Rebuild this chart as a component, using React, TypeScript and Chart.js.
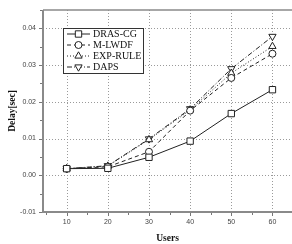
import React, { useEffect, useRef } from "react";
import { Chart, registerables } from "chart.js";
import { drawPoint } from "chart.js/helpers";

Chart.register(...registerables);

const users = [10, 20, 30, 40, 50, 60];
const drasCg = [0.0018, 0.0019, 0.0049, 0.0093, 0.0168, 0.0233];
const mLwdf = [0.0018, 0.0023, 0.0064, 0.0176, 0.0265, 0.0331];
const expRule = [0.0018, 0.0025, 0.0097, 0.0178, 0.0278, 0.0351];
const daps = [0.0018, 0.0026, 0.0099, 0.0181, 0.029, 0.0378];
const xMajorTicks = [10, 20, 30, 40, 50, 60];
const yMajorTicks = [-0.01, 0, 0.01, 0.02, 0.03, 0.04];

const framePlugin = {
  id: "frame",
  beforeDatasetsDraw(chart: any) {
    const { ctx, chartArea: a, scales } = chart;
    const xs = scales.x;
    const ys = scales.y;
    ctx.save();
    ctx.strokeStyle = "#9a9a9a";
    ctx.lineWidth = 1;
    ctx.setLineDash([1, 2]);
    for (const v of xMajorTicks) {
      const x = Math.round(xs.getPixelForValue(v)) + 0.5;
      ctx.beginPath();
      ctx.moveTo(x, a.top);
      ctx.lineTo(x, a.bottom);
      ctx.stroke();
    }
    for (const v of yMajorTicks) {
      const y = Math.round(ys.getPixelForValue(v)) + 0.5;
      ctx.beginPath();
      ctx.moveTo(a.left, y);
      ctx.lineTo(a.right, y);
      ctx.stroke();
    }
    ctx.setLineDash([]);
    ctx.strokeStyle = "#777";
    ctx.lineWidth = 1;
    for (let v = 5; v <= 65; v += 5) {
      if (v < xs.min || v > xs.max) continue;
      const x = Math.round(xs.getPixelForValue(v)) + 0.5;
      const len = v % 10 === 0 ? 4 : 3;
      ctx.beginPath();
      ctx.moveTo(x, a.bottom);
      ctx.lineTo(x, a.bottom + len);
      ctx.stroke();
    }
    for (let i = -2; i <= 9; i++) {
      const v = i * 0.005;
      const y = Math.round(ys.getPixelForValue(v)) + 0.5;
      const len = i % 2 === 0 ? 4 : 3;
      ctx.beginPath();
      ctx.moveTo(a.left, y);
      ctx.lineTo(a.left - len, y);
      ctx.stroke();
    }
    ctx.strokeStyle = "#8a8a8a";
    ctx.lineWidth = 2;
    ctx.beginPath();
    ctx.moveTo(a.left, a.top);
    ctx.lineTo(a.left, a.bottom);
    ctx.lineTo(a.right, a.bottom);
    ctx.stroke();
    ctx.lineWidth = 1.5;
    ctx.beginPath();
    ctx.moveTo(a.left, a.top);
    ctx.lineTo(a.right, a.top);
    ctx.stroke();
    ctx.restore();
  },
  afterDraw(chart: any) {
    const { ctx } = chart;
    const bx = 63;
    const by = 28;
    const bw = 80;
    const bh = 45;
    ctx.save();
    ctx.fillStyle = "#fff";
    ctx.fillRect(bx, by, bw, bh);
    ctx.strokeStyle = "#333";
    ctx.lineWidth = 1;
    ctx.strokeRect(bx + 0.5, by + 0.5, bw, bh);
    chart.data.datasets.forEach((ds: any, i: number) => {
      const y = by + 6 + i * 11;
      ctx.strokeStyle = ds.borderColor;
      ctx.lineWidth = 1;
      ctx.setLineDash(ds.borderDash || []);
      ctx.beginPath();
      ctx.moveTo(bx + 4, y);
      ctx.lineTo(bx + 27, y);
      ctx.stroke();
      ctx.setLineDash([]);
      ctx.fillStyle = "#fff";
      drawPoint(
        ctx,
        {
          pointStyle: ds.pointStyle,
          rotation: ds.pointRotation || 0,
          radius: ds.pointRadius,
          borderWidth: 1,
        },
        bx + 15.5,
        y
      );
      ctx.fillStyle = "#111";
      ctx.font = "10px 'Liberation Serif'";
      ctx.textBaseline = "middle";
      ctx.textAlign = "left";
      ctx.fillText(ds.label, bx + 30, y + 0.5);
    });
    ctx.restore();
  },
};

export default function App() {
  const ref = useRef<HTMLCanvasElement | null>(null);
  useEffect(() => {
    document.body.style.margin = "0";
    const mk = (label: string, data: number[], style: string, dash: number[], radius: number, rot = 0) => ({
      label,
      data: users.map((u, i) => ({ x: u, y: data[i] })),
      borderColor: "#222",
      backgroundColor: "#fff",
      borderWidth: 1,
      borderDash: dash,
      pointStyle: style,
      pointRotation: rot,
      pointRadius: radius,
      pointBorderWidth: 1,
      pointBackgroundColor: "#fff",
      pointBorderColor: "#222",
      tension: 0,
    });
    const chart = new Chart(ref.current as HTMLCanvasElement, {
      type: "line",
      data: {
        datasets: [
          mk("DRAS-CG", drasCg, "rect", [], 4.5),
          mk("M-LWDF", mLwdf, "circle", [4, 3], 3.5),
          mk("EXP-RULE", expRule, "triangle", [1, 2], 4.2),
          mk("DAPS", daps, "triangle", [5, 2, 1, 2], 4.2, 180),
        ] as any,
      },
      plugins: [framePlugin],
      options: {
        animation: false,
        responsive: false,
        maintainAspectRatio: false,
        layout: { autoPadding: false, padding: { top: 10, right: 0, left: 0, bottom: 0 } },
        plugins: { legend: { display: false }, tooltip: { enabled: false } },
        scales: {
          x: {
            type: "linear",
            min: 4.25,
            max: 64.75,
            afterBuildTicks: (s: any) => {
              s.ticks = xMajorTicks.map((v) => ({ value: v }));
            },
            afterFit: (s: any) => {
              s.height = 32;
              s.paddingLeft = 0;
              s.paddingRight = 0;
            },
            grid: { display: false, drawTicks: false },
            border: { display: false },
            ticks: {
              padding: 6,
              color: "#444",
              font: { family: "'Liberation Sans'", size: 7 },
              callback: (v: any) => String(v),
            },
            title: {
              display: true,
              text: "Users",
              color: "#111",
              font: { family: "'Liberation Serif'", size: 9.5, weight: "bold" },
              padding: { top: 4, bottom: 0 },
            },
          },
          y: {
            type: "linear",
            min: -0.01,
            max: 0.045,
            afterBuildTicks: (s: any) => {
              s.ticks = yMajorTicks.map((v) => ({ value: v }));
            },
            afterFit: (s: any) => {
              s.width = 43;
              s.paddingTop = 0;
              s.paddingBottom = 0;
            },
            grid: { display: false, drawTicks: false },
            border: { display: false },
            ticks: {
              padding: 7,
              color: "#444",
              font: { family: "'Liberation Sans'", size: 7 },
              callback: (v: any) => Number(v).toFixed(2),
            },
            title: {
              display: true,
              text: "Delay[sec]",
              color: "#111",
              font: { family: "'Liberation Serif'", size: 9.5, weight: "bold" },
              padding: { top: 7, bottom: 2 },
            },
          },
        },
      } as any,
    });
    return () => chart.destroy();
  }, []);
  return (
    <div style={{ position: "fixed", left: 0, top: 0, width: 292, height: 244, background: "#fff" }}>
      <canvas ref={ref} width={292} height={244} style={{ display: "block" }} />
    </div>
  );
}
